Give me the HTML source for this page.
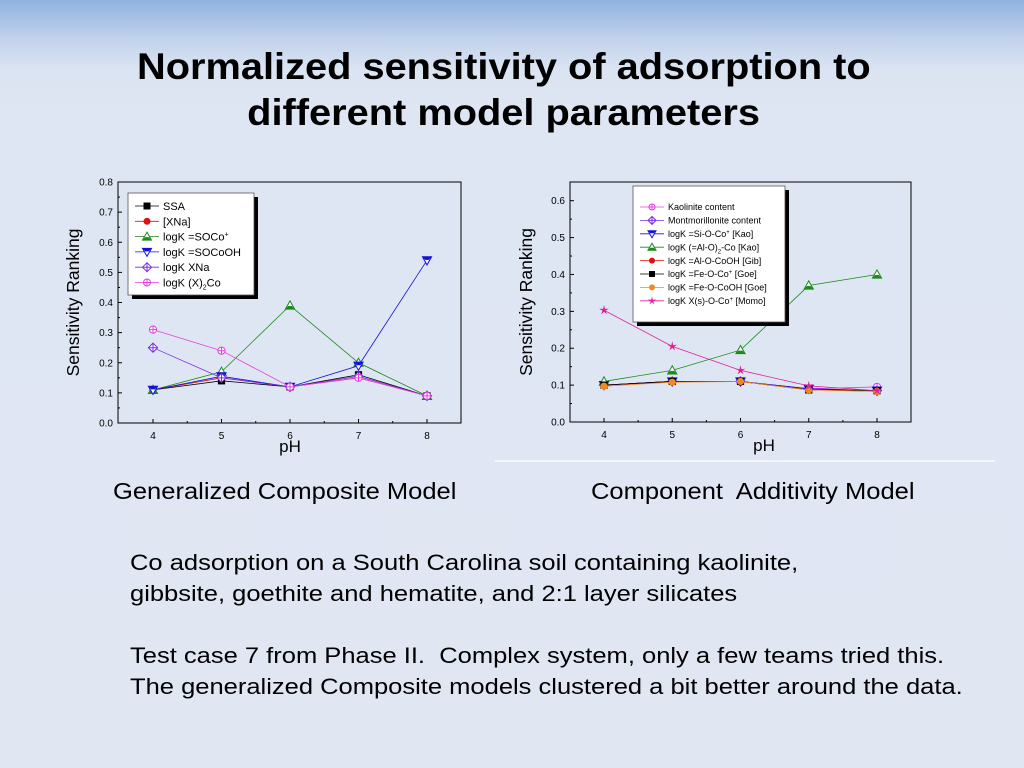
<!DOCTYPE html>
<html><head><meta charset="utf-8"><style>
html,body{margin:0;padding:0;width:1024px;height:768px;overflow:hidden}
body{background:linear-gradient(#8fb2df 0px,#c3d3ec 40px,#dbe4f2 70px,#dfe6f3 120px,#e0e7f3 768px);font-family:"Liberation Sans",sans-serif;position:relative}
.t{position:absolute;color:#000;transform-origin:0 0;white-space:nowrap}
</style></head><body>
<div class="t" style="left:137px;width:682px;top:44px;text-align:center;font-weight:bold;font-size:37px;line-height:46px;transform:scaleX(1.075)">Normalized sensitivity of adsorption to<br>different model parameters</div>
<div class="t" style="left:113px;top:478px;font-size:23px;transform:scaleX(1.11)">Generalized Composite Model</div>
<div class="t" style="left:591px;top:478px;font-size:23px;transform:scaleX(1.11)">Component&nbsp; Additivity Model</div>
<div class="t" style="left:130px;top:547px;font-size:22px;line-height:31px;transform:scaleX(1.16)">Co adsorption on a South Carolina soil containing kaolinite,<br>gibbsite, goethite and hematite, and 2:1 layer silicates<br><br>Test case 7 from Phase II.&nbsp; Complex system, only a few teams tried this.<br>The generalized Composite models clustered a bit better around the data.</div>
<div style="position:absolute;left:495px;top:460px;width:500px;height:2px;background:#f4f6fb"></div>
<svg id="s" width="1024" height="768" style="position:absolute;left:0;top:0" xmlns="http://www.w3.org/2000/svg"></svg>
<script>
const phs=[4,5,6,7,8];
const lSSA=[0.11,0.14,0.12,0.16,0.09];
const lXNa=[0.11,0.15,0.12,0.15,0.09];
const lSOCo=[0.11,0.17,0.39,0.20,0.09];
const lSOCoOH=[0.11,0.155,0.12,0.19,0.54];
const lLogXNa=[0.25,0.15,0.12,0.155,0.09];
const lX2Co=[0.31,0.24,0.12,0.15,0.09];
const rKao=[0.10,0.11,0.11,0.09,0.095];
const rMont=[0.10,0.11,0.11,0.09,0.085];
const rSiOCo=[0.10,0.11,0.11,0.09,0.085];
const rAlO2Co=[0.11,0.14,0.195,0.37,0.40];
const rAlOCoOH=[0.10,0.11,0.11,0.087,0.083];
const rFeOCo=[0.10,0.11,0.11,0.087,0.085];
const rFeOCoOH=[0.097,0.108,0.11,0.087,0.083];
const rMomo=[0.303,0.205,0.14,0.098,0.085];
const lTicks=[0,0.1,0.2,0.3,0.4,0.5,0.6,0.7,0.8];
const rTicks=[0,0.1,0.2,0.3,0.4,0.5,0.6];
const S=document.getElementById('s');const NS="http://www.w3.org/2000/svg";
function mk(t,a,p){const e=document.createElementNS(NS,t);for(const k in a)e.setAttribute(k,a[k]);(p||S).appendChild(e);return e;}
function marker(g,type,c,x,y,s){
 s=s||4;
 if(type=='sq')mk('rect',{x:x-s,y:y-s,width:2*s,height:2*s,fill:'#000'},g);
 else if(type=='ci')mk('circle',{cx:x,cy:y,r:s,fill:c},g);
 else if(type=='tu'){mk('polygon',{points:`${x},${y-s-1} ${x+s+1},${y+s} ${x-s-1},${y+s}`,fill:'#fff',stroke:c,'stroke-width':1},g);mk('polygon',{points:`${x-s*0.5},${y+0.5} ${x+s*0.5},${y+0.5} ${x+s+1},${y+s} ${x-s-1},${y+s}`,fill:c},g);}
 else if(type=='td'){mk('polygon',{points:`${x-s-1},${y-s} ${x+s+1},${y-s} ${x},${y+s+1}`,fill:'#fff',stroke:c,'stroke-width':1},g);mk('polygon',{points:`${x-s-1},${y-s} ${x+s+1},${y-s} ${x+s*0.5},${y-0.5} ${x-s*0.5},${y-0.5}`,fill:c},g);}
 else if(type=='di'){mk('polygon',{points:`${x},${y-s-1} ${x+s+1},${y} ${x},${y+s+1} ${x-s-1},${y}`,fill:'#fff',stroke:c,'stroke-width':1},g);mk('path',{d:`M${x-s-1} ${y}H${x+s+1}M${x} ${y-s-1}V${y+s+1}`,stroke:c,'stroke-width':1},g);}
 else if(type=='pc'){mk('circle',{cx:x,cy:y,r:s,fill:'#fff',stroke:c,'stroke-width':1},g);mk('path',{d:`M${x-s} ${y}H${x+s}M${x} ${y-s}V${y+s}`,stroke:c,'stroke-width':1},g);}
 else if(type=='st'){let p=[];for(let i=0;i<10;i++){const r=i%2?s*0.45:s+1.5;const a=-Math.PI/2+i*Math.PI/5;p.push((x+r*Math.cos(a)).toFixed(1)+','+(y+r*Math.sin(a)).toFixed(1));}mk('polygon',{points:p.join(' '),fill:c},g);}
}
function chart(cfg){
 const g=mk('g',{});
 
 
 const X=v=>cfg.x0+(v-4)*(cfg.x8-cfg.x0)/4, Y=v=>cfg.y0-v*(cfg.y0-cfg.ytop)/cfg.ymax;
 mk('rect',{x:cfg.L,y:cfg.T,width:cfg.R-cfg.L,height:cfg.B-cfg.T,fill:'#dfe6f3',stroke:'#000','stroke-width':1},g);
 cfg.ticks.forEach((t,i)=>{const y=Y(t);mk('line',{x1:cfg.L,x2:cfg.L+4,y1:y,y2:y,stroke:'#000'},g);
  if(i<cfg.ticks.length-1){const ym=Y(t+0.05);mk('line',{x1:cfg.L,x2:cfg.L+2,y1:ym,y2:ym,stroke:'#000'},g);}
  const tx=mk('text',{x:cfg.L-5,y:y+3.5,'font-size':10,'text-anchor':'end'},g);tx.textContent=t.toFixed(1);});
 phs.forEach((p,i)=>{const x=X(p);mk('line',{x1:x,x2:x,y1:cfg.B,y2:cfg.B-4,stroke:'#000'},g);
  if(i<4){const xm=X(p+0.5);mk('line',{x1:xm,x2:xm,y1:cfg.B,y2:cfg.B-2,stroke:'#000'},g);}
  const tx=mk('text',{x:x,y:cfg.B+16,'font-size':10,'text-anchor':'middle'},g);tx.textContent=p;});
 const xl=mk('text',{x:cfg.xlx,y:cfg.B+29,'font-size':17,'text-anchor':'middle'},g);xl.textContent='pH';
 
 const yl=mk('text',{x:0,y:0,'font-size':17.5,'text-anchor':'middle',transform:`translate(${cfg.ylx},${(cfg.T+cfg.B)/2}) rotate(-90)`},g);yl.textContent='Sensitivity Ranking';
 
 cfg.series.forEach(s=>{const sg=mk('g',{},g);
  
  mk('polyline',{points:s.v.map((v,i)=>X(phs[i])+','+Y(v)).join(' '),fill:'none',stroke:s.c,'stroke-width':0.8},sg);
  s.v.forEach((v,i)=>marker(sg,s.m,s.c,X(phs[i]),Y(v),cfg.ms));});
 const lg=mk('g',{},g);
 const l=cfg.leg;
 mk('rect',{x:l.x+4,y:l.y+4,width:l.w,height:l.h,fill:'#000'},lg);
 mk('rect',{x:l.x,y:l.y,width:l.w,height:l.h,fill:'#fff',stroke:'#555','stroke-width':0.8},lg);
 cfg.series.forEach((s,i)=>{const y=l.y+l.sy+i*l.dy;
  const eg=mk('g',{},lg);
  mk('line',{x1:l.x+7,x2:l.x+31,y1:y,y2:y,stroke:s.c,'stroke-width':0.8},eg);
  marker(eg,s.m,s.c,l.x+19,y,l.ms);
  const t=mk('text',{x:l.x+35,y:y+l.fs*0.36,'font-size':l.fs},eg);t.innerHTML=s.label;});
}
chart({name:'generalized-composite-chart',L:118,R:461,T:182,B:423,x0:153,x8:427,y0:423,ytop:182,ymax:0.8,ticks:lTicks,xlx:290,ylx:79,ms:3.6,
 leg:{x:128,y:193,w:126,h:102,sy:13,dy:15.3,fs:11,ms:3.5},
 series:[
 {id:'ssa',label:'SSA',v:lSSA,c:'#000',m:'sq'},
 {id:'xna',label:'[XNa]',v:lXNa,c:'#e01010',m:'ci'},
 {id:'socoplus',label:'logK =SOCo<tspan dy="-4" font-size="7">+</tspan>',v:lSOCo,c:'#1a8a1a',m:'tu'},
 {id:'socooh',label:'logK =SOCoOH',v:lSOCoOH,c:'#1010e0',m:'td'},
 {id:'logk-xna',label:'logK XNa',v:lLogXNa,c:'#7a2ee0',m:'di'},
 {id:'x2co',label:'logK (X)<tspan dy="3" font-size="7">2</tspan><tspan dy="-3">Co</tspan>',v:lX2Co,c:'#e040e0',m:'pc'}]});
chart({name:'component-additivity-chart',L:570,R:911,T:182,B:422,x0:604,x8:877,y0:422,ytop:200.7,ymax:0.6,ticks:rTicks,xlx:764,ylx:532,ms:3.6,
 leg:{x:633,y:186,w:152,h:136,sy:21,dy:13.4,fs:9,ms:3},
 series:[
 {id:'kaolinite',label:'Kaolinite content',v:rKao,c:'#e040e0',m:'pc'},
 {id:'montmorillonite',label:'Montmorillonite content',v:rMont,c:'#7a2ee0',m:'di'},
 {id:'si-o-co',label:'logK =Si-O-Co<tspan dy="-3" font-size="6">+</tspan><tspan dy="3"> [Kao]</tspan>',v:rSiOCo,c:'#1010e0',m:'td'},
 {id:'al-o2-co',label:'logK (=Al-O)<tspan dy="3" font-size="6">2</tspan><tspan dy="-3">-Co [Kao]</tspan>',v:rAlO2Co,c:'#1a8a1a',m:'tu'},
 {id:'al-o-cooh',label:'logK =Al-O-CoOH [Gib]',v:rAlOCoOH,c:'#e01010',m:'ci'},
 {id:'fe-o-co',label:'logK =Fe-O-Co<tspan dy="-3" font-size="6">+</tspan><tspan dy="3"> [Goe]</tspan>',v:rFeOCo,c:'#000',m:'sq'},
 {id:'fe-o-cooh',label:'logK =Fe-O-CoOH [Goe]',v:rFeOCoOH,c:'#f08a20',m:'ci'},
 {id:'momo',label:'logK X(s)-O-Co<tspan dy="-3" font-size="6">+</tspan><tspan dy="3"> [Momo]</tspan>',v:rMomo,c:'#e0209a',m:'st'}]});
</script>
</body></html>
